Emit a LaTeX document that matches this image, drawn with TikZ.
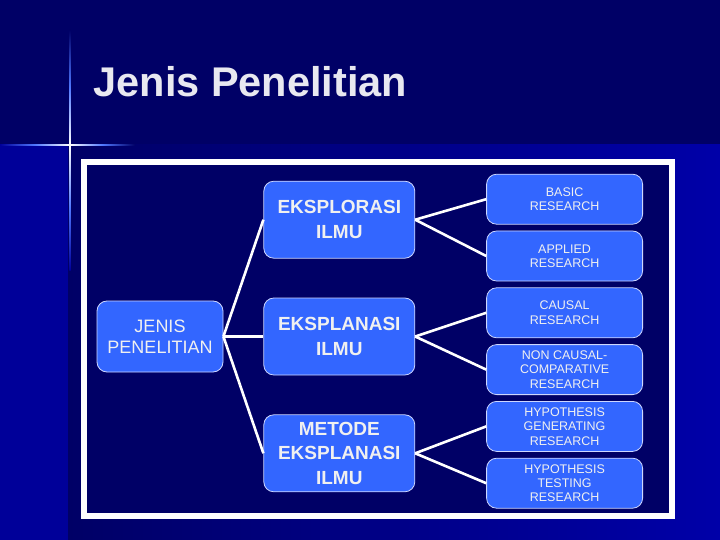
\documentclass[tikz,border=0pt]{standalone}
\usepackage{fontspec}
\setmainfont{Liberation Sans}
\usetikzlibrary{positioning}
\definecolor{navy}{RGB}{0,0,102}
\definecolor{lowblue}{RGB}{0,0,153}
\definecolor{rightblue}{RGB}{0,0,168}
\definecolor{boxblue}{RGB}{51,102,255}
\definecolor{boxline}{RGB}{205,215,255}
\definecolor{boxtext}{RGB}{240,240,240}
\definecolor{flare}{RGB}{80,120,255}

\begin{document}
\begin{tikzpicture}[
        x=1pt, y=-1pt,
        node distance=40pt,
        every node/.style={align=center, text=boxtext},
        box/.style={draw=boxline, line width=0.8pt, fill=boxblue, rounded corners=10pt, inner sep=2pt},
        rootbox/.style={box, minimum width=126pt, minimum height=71pt, font=\fontsize{18}{21}\selectfont},
        midbox/.style={box, minimum width=151pt, minimum height=77pt, font=\fontsize{19}{24.5}\selectfont\bfseries},
        leafbox/.style={box, minimum width=156pt, minimum height=50pt, font=\fontsize{12.5}{14.4}\selectfont},
        line/.style={-, line width=2.6pt, draw=white},
    ]
    \useasboundingbox (0,0) rectangle (720,540);
    % Background
    \fill[navy] (0,0) rectangle (720,145);
    \fill[lowblue] (0,145) rectangle (68,540);
    \shade[left color=navy, right color=rightblue] (68,145) rectangle (720,540);
    \shade[top color=navy, bottom color=white, middle color=flare] (69.3,30) rectangle (70.7,145);
    \shade[top color=white, bottom color=lowblue, middle color=flare] (69.3,145) rectangle (70.7,270);
    \shade[left color=lowblue, right color=white, middle color=flare] (0,144.3) rectangle (70,145.7);
    \shade[left color=white, right color=navy, middle color=flare] (70,144.3) rectangle (135,145.7);
    \filldraw[fill=navy, draw=white, line width=6pt] (84,162) rectangle (672,516);
    % Title
    \node[anchor=base west, text={rgb,255:red,232;green,232;blue,240}, font=\fontsize{41.5}{48}\selectfont\bfseries] (title) at (90,97) {Jenis Penelitian};
    % Nodes
    \node[rootbox] (J) at (160,336.5) {JENIS\\PENELITIAN};
    \node[midbox, right=40pt of J] (Ekp) {EKSPLANASI\\ILMU};
    \node[midbox, above=39pt of Ekp] (Eks) {EKSPLORASI\\ILMU};
    \node[midbox, below=39pt of Ekp] (Met) {METODE\\EKSPLANASI\\ILMU};
    \node[leafbox, right=71pt of Eks, yshift=20.5pt] (Basic) {BASIC\\RESEARCH};
    \node[leafbox, below=6pt of Basic] (Applied) {APPLIED\\RESEARCH};
    \node[leafbox, below=6pt of Applied] (Causal) {CAUSAL\\RESEARCH};
    \node[leafbox, below=6pt of Causal] (NonCausal) {NON CAUSAL-\\COMPARATIVE\\RESEARCH};
    \node[leafbox, below=6pt of NonCausal] (HypGen) {HYPOTHESIS\\GENERATING\\RESEARCH};
    \node[leafbox, below=6pt of HypGen] (HypTest) {HYPOTHESIS\\TESTING\\RESEARCH};
    % Lines
    \draw[line] (J.east) -- (Eks.west);
    \draw[line] (J.east) -- (Ekp.west);
    \draw[line] (J.east) -- (Met.west);
    \draw[line] (Eks.east) -- (Basic.west);
    \draw[line] (Eks.east) -- (Applied.west);
    \draw[line] (Ekp.east) -- (Causal.west);
    \draw[line] (Ekp.east) -- (NonCausal.west);
    \draw[line] (Met.east) -- (HypGen.west);
    \draw[line] (Met.east) -- (HypTest.west);
\end{tikzpicture}
\end{document}
